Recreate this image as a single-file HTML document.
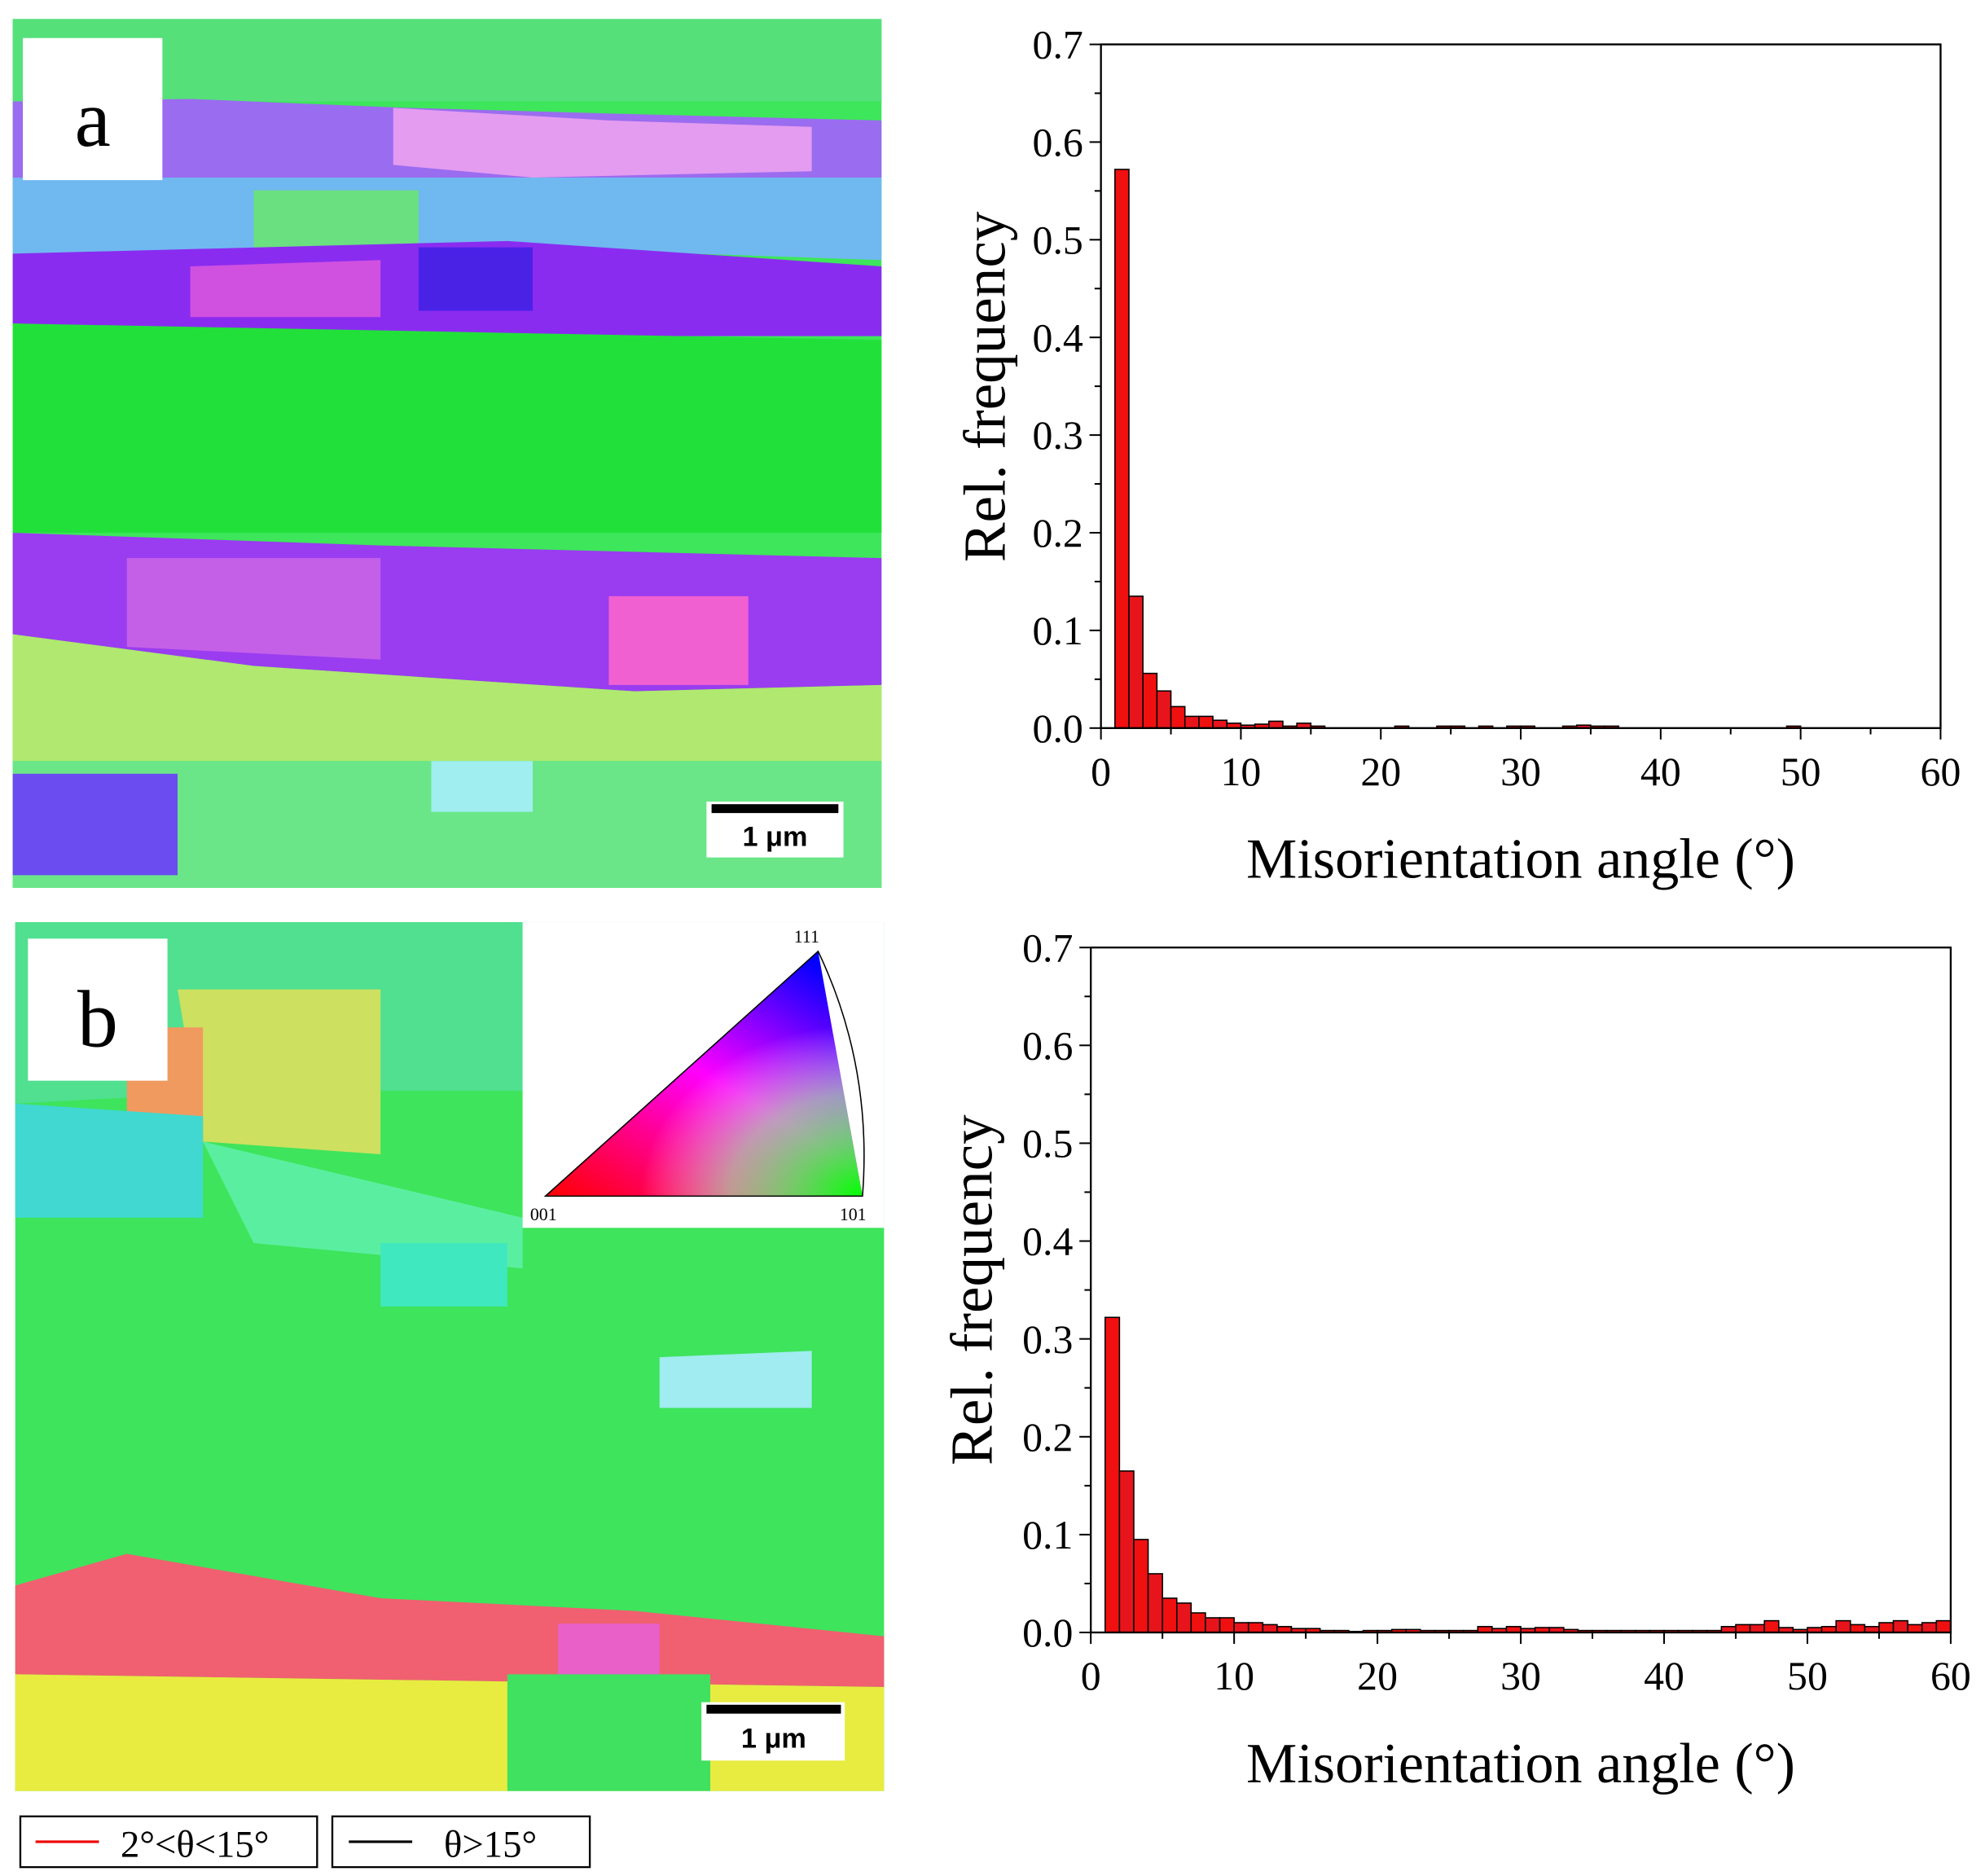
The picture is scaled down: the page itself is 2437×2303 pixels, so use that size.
<!DOCTYPE html>
<html><head><meta charset="utf-8"><style>html,body{margin:0;padding:0;background:#fff}svg{display:block}</style></head>
<body>
<svg id="s" width="2437" height="2303" viewBox="0 0 1565 1479" xmlns="http://www.w3.org/2000/svg" font-family="Liberation Serif, serif">
<rect width="1565" height="1479" fill="#fff"/>
<!-- map a -->
<g>
<rect x="10" y="15" width="685" height="685" fill="#3de65a"/>
<rect x="10" y="15" width="685" height="65" fill="#55e07a"/>
<polygon points="10,80 150,78 320,85 500,90 695,95 695,140 500,145 300,140 10,140" fill="#9a6cf0"/>
<polygon points="310,85 480,95 640,100 640,135 420,140 310,130" fill="#e49cf0"/>
<polygon points="10,140 695,140 695,205 400,195 10,200" fill="#70b8f0"/>
<polygon points="200,150 330,150 330,195 200,195" fill="#6ae080"/>
<polygon points="10,200 400,190 695,210 695,265 400,265 10,255" fill="#8a2cf0"/>
<polygon points="330,195 420,195 420,245 330,245" fill="#4a22e6"/>
<polygon points="150,210 300,205 300,250 150,250" fill="#d050e0"/>
<polygon points="10,255 695,268 695,420 10,420" fill="#22e03a"/>
<polygon points="10,420 300,430 695,440 695,540 500,545 200,525 10,500" fill="#9a3cf0"/>
<polygon points="100,440 300,440 300,520 100,510" fill="#c460e8"/>
<polygon points="480,470 590,470 590,540 480,540" fill="#f060d0"/>
<polygon points="10,500 200,525 500,545 695,540 695,600 10,600" fill="#b0e870"/>
<polygon points="10,600 695,600 695,700 10,700" fill="#6ae688"/>
<polygon points="10,610 140,610 140,690 10,690" fill="#6a4cf0"/>
<polygon points="340,600 420,600 420,640 340,640" fill="#a0eef0"/>
<rect x="18" y="30" width="110" height="112" fill="#fff"/>
<text x="73" y="115" font-size="64" text-anchor="middle">a</text>
<rect x="557" y="632" width="108" height="44" fill="#fff"/>
<rect x="561" y="634" width="100" height="7" fill="#000"/>
<text x="611" y="667" font-size="22" font-family="Liberation Sans, sans-serif" font-weight="bold" text-anchor="middle">1 μm</text>
</g>
<!-- map b -->
<g>
<rect x="12" y="727" width="685" height="685" fill="#3ee45c"/>
<polygon points="12,727 412,727 412,860 200,860 12,870" fill="#50e090"/>
<polygon points="140,780 300,780 300,910 160,900" fill="#cde060"/>
<polygon points="100,810 160,810 160,900 100,890" fill="#f09a60"/>
<polygon points="12,870 160,880 160,960 12,960" fill="#40d8d0"/>
<polygon points="160,900 412,960 412,1000 200,980" fill="#5aefa0"/>
<polygon points="300,980 400,980 400,1030 300,1030" fill="#40e8c0"/>
<polygon points="520,1070 640,1065 640,1110 520,1110" fill="#a0ecf0"/>
<polygon points="12,1250 100,1225 300,1260 500,1270 697,1290 697,1330 12,1320" fill="#f06070"/>
<polygon points="440,1280 520,1280 520,1330 440,1330" fill="#e860c8"/>
<polygon points="12,1320 697,1330 697,1412 12,1412" fill="#e8ec40"/>
<polygon points="400,1320 560,1320 560,1412 400,1412" fill="#40e060"/>
<rect x="412" y="727" width="285" height="241" fill="#fff"/>
<defs><linearGradient id="ipf" x1="0" y1="1" x2="0.8" y2="0"><stop offset="0" stop-color="#f00"/><stop offset="0.55" stop-color="#f0f"/><stop offset="1" stop-color="#00f"/></linearGradient>
<radialGradient id="ipf2" cx="1" cy="1" r="0.7"><stop offset="0" stop-color="#0f0"/><stop offset="0.6" stop-color="#9f9" stop-opacity="0.6"/><stop offset="1" stop-color="#fff" stop-opacity="0"/></radialGradient></defs>
<polygon points="430,943 645,750 680,943" fill="url(#ipf)"/>
<polygon points="430,943 645,750 680,943" fill="url(#ipf2)"/>
<path d="M430,943 L645,750 Q688,840 680,943 Z" fill="none" stroke="#000" stroke-width="1"/>
<text x="418" y="962" font-size="14">001</text><text x="662" y="962" font-size="14">101</text><text x="626" y="743" font-size="14">111</text>
<rect x="22" y="740" width="110" height="112" fill="#fff"/>
<text x="77" y="825" font-size="64" text-anchor="middle">b</text>
<rect x="553" y="1342" width="113" height="46" fill="#fff"/>
<rect x="557" y="1344" width="106" height="7" fill="#000"/>
<text x="610" y="1378" font-size="22" font-family="Liberation Sans, sans-serif" font-weight="bold" text-anchor="middle">1 μm</text>
</g>
<!-- legend -->
<rect x="16" y="1432" width="234" height="40" fill="#fff" stroke="#000" stroke-width="1.5"/>
<line x1="28" y1="1452" x2="78" y2="1452" stroke="#e00" stroke-width="2"/>
<text x="95" y="1464" font-size="30">2°&lt;θ&lt;15°</text>
<rect x="262" y="1432" width="203" height="40" fill="#fff" stroke="#000" stroke-width="1.5"/>
<line x1="275" y1="1452" x2="325" y2="1452" stroke="#000" stroke-width="2"/>
<text x="350" y="1464" font-size="30">θ&gt;15°</text>
<g id="c1"></g><g id="c2"></g>
</svg>
<script>
var NS="http://www.w3.org/2000/svg";
function el(p,t,a,txt){var e=document.createElementNS(NS,t);for(var k in a)e.setAttribute(k,a[k]);if(txt!=null)e.textContent=txt;p.appendChild(e);return e;}
function chart(g,x0,x1,y0,y1,bars,lx,ly){
 var sx=(x1-x0)/60, sy=(y0-y1)/0.7;
 bars.forEach(function(v,i){if(v<=0)return;el(g,"rect",{x:x0+(i+1)*sx,y:y0-v*sy,width:sx,height:v*sy,fill:i%2?"#e8141c":"#f01010",stroke:"#000","stroke-width":1});});
 el(g,"rect",{x:x0,y:y1,width:x1-x0,height:y0-y1,fill:"none",stroke:"#000","stroke-width":1.5});
 for(var i=0;i<=12;i++){var x=x0+i*5*sx;el(g,"line",{x1:x,x2:x,y1:y0,y2:y0+(i%2?5:9),stroke:"#000","stroke-width":1.3});if(i%2==0)el(g,"text",{x:x,y:y0+45,"font-size":32,"text-anchor":"middle"},String(i*5));}
 for(var j=0;j<=14;j++){var y=y0-j*0.05*sy;el(g,"line",{x1:x0,x2:x0-(j%2?5:9),y1:y,y2:y,stroke:"#000","stroke-width":1.3});if(j%2==0)el(g,"text",{x:x0-14,y:y+11,"font-size":32,"text-anchor":"end"},(j*0.05).toFixed(1));}
 el(g,"text",{x:(x0+x1)/2,y:y0+118,"font-size":45,"text-anchor":"middle"},"Misorientation angle (°)");
 el(g,"text",{x:lx,y:ly,"font-size":47,"text-anchor":"middle",transform:"rotate(-90 "+lx+" "+ly+")"},"Rel. frequency");
}
var b1=[0.572,0.135,0.056,0.038,0.022,0.012,0.012,0.008,0.005,0.003,0.004,0.007,0.002,0.005,0.002,0,0,0,0,0,0.002,0,0,0.002,0.002,0,0.002,0,0.002,0.002,0,0,0.002,0.003,0.002,0.002,0,0,0,0,0,0,0,0,0,0,0,0,0.002,0,0,0,0,0,0,0,0,0,0];
var b2=[0.322,0.165,0.095,0.06,0.035,0.03,0.02,0.015,0.015,0.01,0.01,0.008,0.006,0.004,0.004,0.002,0.002,0.001,0.002,0.002,0.003,0.003,0.002,0.002,0.002,0.002,0.006,0.004,0.006,0.004,0.005,0.005,0.003,0.002,0.002,0.002,0.002,0.002,0.002,0.002,0.002,0.002,0.002,0.006,0.008,0.008,0.012,0.005,0.003,0.005,0.006,0.012,0.008,0.006,0.01,0.012,0.008,0.01,0.012];
chart(document.getElementById("c1"),868,1530,574,35,b1,792,305);
chart(document.getElementById("c2"),860,1538,1287,747,b2,782,1017);
</script>
</body></html>
